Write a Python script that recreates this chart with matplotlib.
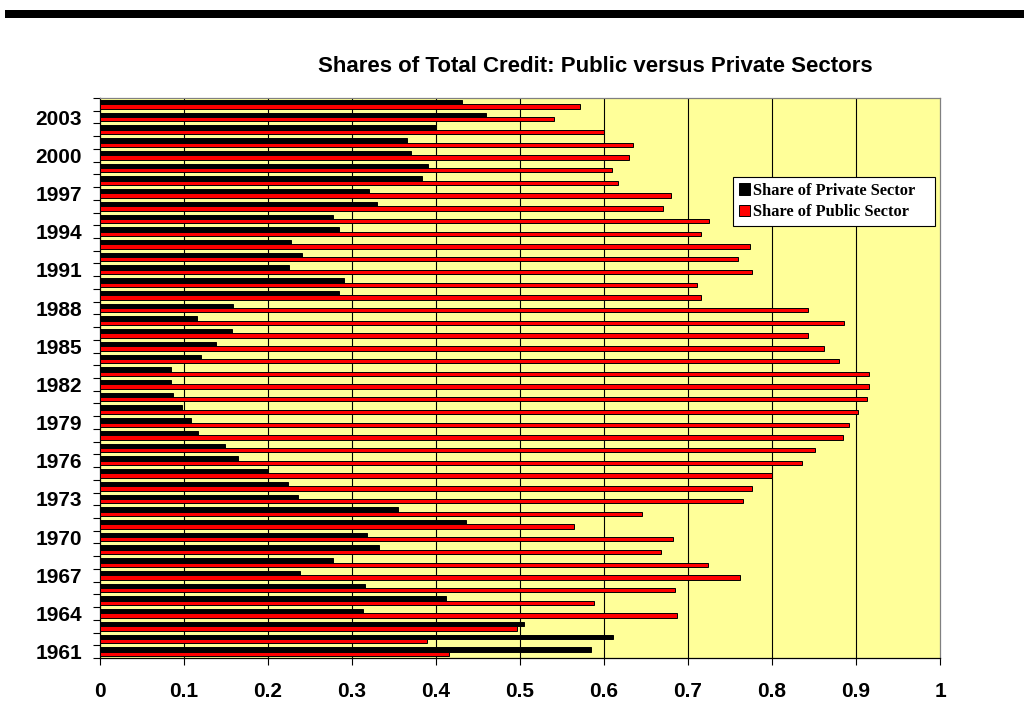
import matplotlib
matplotlib.use("Agg")
import matplotlib.pyplot as plt
import numpy as np
from matplotlib.patches import Rectangle

years = list(range(1961, 2005))

# read top-down from the picture (2004 first), reversed below
private_top_down = [0.431, 0.46, 0.40, 0.366, 0.37, 0.39, 0.383, 0.32, 0.33, 0.277,
                    0.285, 0.227, 0.24, 0.225, 0.29, 0.285, 0.158, 0.115, 0.157, 0.138,
                    0.12, 0.085, 0.084, 0.087, 0.098, 0.108, 0.117, 0.149, 0.164, 0.20,
                    0.224, 0.236, 0.355, 0.436, 0.318, 0.332, 0.277, 0.238, 0.316, 0.412,
                    0.313, 0.505, 0.611, 0.585]
public_top_down = [0.571, 0.54, 0.60, 0.635, 0.63, 0.61, 0.617, 0.68, 0.67, 0.725,
                   0.715, 0.774, 0.76, 0.776, 0.711, 0.716, 0.843, 0.886, 0.843, 0.862,
                   0.88, 0.915, 0.916, 0.913, 0.902, 0.892, 0.884, 0.851, 0.836, 0.80,
                   0.776, 0.765, 0.645, 0.564, 0.682, 0.668, 0.724, 0.762, 0.684, 0.588,
                   0.687, 0.496, 0.389, 0.415]
private_share = private_top_down[::-1]
public_share = public_top_down[::-1]

x_ticks = [0, 0.1, 0.2, 0.3, 0.4, 0.5, 0.6, 0.7, 0.8, 0.9, 1]
x_labels = ["0", "0.1", "0.2", "0.3", "0.4", "0.5", "0.6", "0.7", "0.8", "0.9", "1"]

plt.rcParams['font.family'] = ['Liberation Sans', 'DejaVu Sans']

fig = plt.figure(figsize=(10.24, 7.26), dpi=100)
ax = fig.add_axes([100/1024, 1-658/726, 840/1024, (658-98)/726])
ax.set_facecolor('#FFFF99')

y = np.arange(len(years))
h = 0.34
ax.barh(y + h/2, private_share, height=h, color='black', edgecolor='black', linewidth=0.7,
        label='Share of Private Sector', zorder=3)
ax.barh(y - h/2, public_share, height=h, color='#FF0000', edgecolor='black', linewidth=0.7,
        label='Share of Public Sector', zorder=3)

ax.set_xlim(0, 1)
ax.set_ylim(-0.5, len(years) - 0.5)

ax.set_xticks(x_ticks)
ax.set_xticklabels(x_labels, fontsize=15, fontweight='bold')
ax.tick_params(axis='x', length=5, width=0.8, pad=12, color='black')
for v in x_ticks[1:-1]:
    ax.axvline(v, color='black', linewidth=0.8, zorder=1)

# category boundary ticks, labels every third year
ax.set_yticks(np.arange(len(years) + 1) - 0.5)
ax.set_yticklabels([])
ax.tick_params(axis='y', which='major', length=5, width=0.8, color='black')
lab_pos = [i for i, yr in enumerate(years) if (yr - 1961) % 3 == 0]
ax.set_yticks(lab_pos, minor=True)
ax.set_yticklabels([str(years[i]) for i in lab_pos], minor=True, fontsize=15, fontweight='bold')
ax.tick_params(axis='y', which='minor', length=0, pad=13)

for s in ['top', 'right']:
    ax.spines[s].set_color('#808080')
for s in ['left', 'bottom']:
    ax.spines[s].set_color('black')
for s in ax.spines.values():
    s.set_linewidth(0.9)

# legend box spans 733..935 px
lx0 = (733 - 100) / 840
lw = (935 - 733) / 840
ltop = 1 - (177 - 98) / 560
leg = ax.legend(loc='upper left', bbox_to_anchor=(lx0, ltop - 0.1, lw, 0.1), mode='expand',
                frameon=True, fancybox=False, shadow=False, framealpha=1, borderpad=0.35,
                handlelength=0.7, handleheight=0.7, handletextpad=0.15, labelspacing=0.35,
                borderaxespad=0,
                prop={'family': 'Liberation Serif', 'weight': 'bold', 'size': 11.8})
leg.get_frame().set_edgecolor('black')
leg.get_frame().set_linewidth(0.8)

fig.text(595/1024, 1-66/726, "Shares of Total Credit: Public versus Private Sectors",
         ha='center', va='center', fontsize=16, fontweight='bold')

fig.add_artist(Rectangle((5/1024, 1-18/726), 1019/1024, 8/726, transform=fig.transFigure,
                         color='black', linewidth=0))

fig.savefig('out.png', dpi=100)
